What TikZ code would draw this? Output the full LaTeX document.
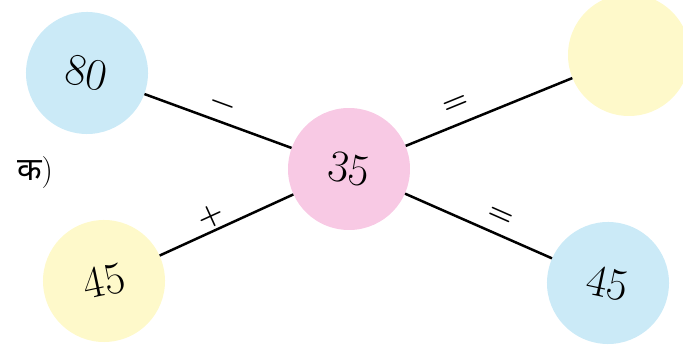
\documentclass[tikz,border=0pt]{standalone}
\usepackage{fontspec}
\newfontfamily\deva[Script=Devanagari]{Noto Sans}
\definecolor{cblue}{RGB}{203,234,247}
\definecolor{cpink}{RGB}{248,201,228}
\definecolor{cyellow}{RGB}{254,249,202}
\begin{document}
\begin{tikzpicture}[x=1pt,y=1pt,
  ball/.style={circle, minimum size=122pt, inner sep=0pt, font=\fontsize{45}{45}\selectfont},
  link/.style={line width=2.5pt, black},
  lab/.style={sloped, inner sep=0pt, font=\fontsize{29}{29}\selectfont\bfseries}]
\useasboundingbox (0,0) rectangle (683,345);
\node[ball, fill=cblue, rotate=-12] (tl) at (87,272) {80};
\node[ball, fill=cpink, rotate=-10] (c) at (349,176) {35};
\node[ball, fill=cyellow] (tr) at (629,290) {};
\node[ball, fill=cyellow, rotate=12] (bl) at (104,64) {45};
\node[ball, fill=cblue, rotate=-12] (br) at (608,62) {45};
\node[font=\fontsize{32}{32}\selectfont] (k) at (35,172) {{\deva क})};
\draw[link] (tl) -- node[lab, pos=0.49, above=14pt, anchor=center] {−} (c);
\draw[link] (c) -- node[lab, pos=0.345, above=19pt, anchor=center] {=} (tr);
\draw[link] (bl) -- node[lab, pos=0.43, above=14pt, anchor=center] {+} (c);
\draw[link] (c) -- node[lab, pos=0.6, above=18pt, anchor=center] {=} (br);
\end{tikzpicture}
\end{document}
